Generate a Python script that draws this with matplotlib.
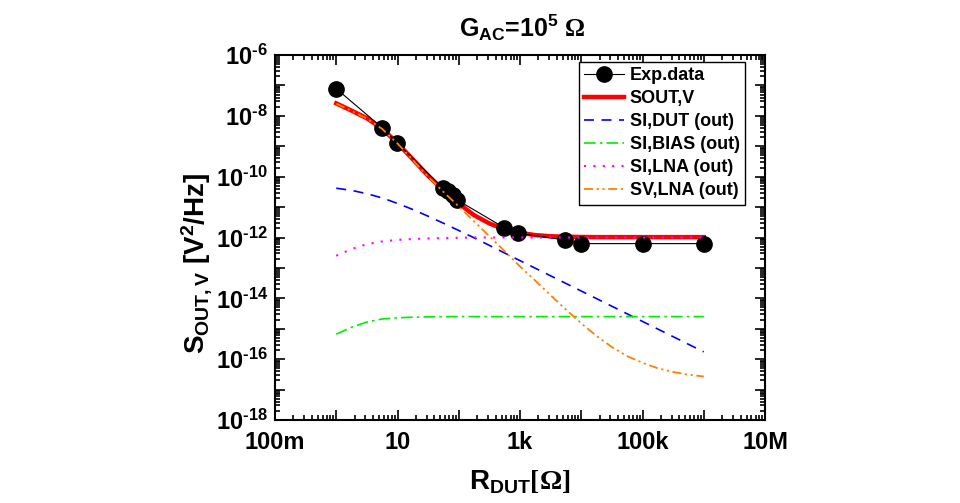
import numpy as np
import matplotlib
matplotlib.use('Agg')
import matplotlib.pyplot as plt
from matplotlib.ticker import LogLocator, FuncFormatter, NullFormatter

plt.rcParams['font.family'] = ['Liberation Sans', 'DejaVu Sans']
plt.rcParams['font.weight'] = 'bold'
plt.rcParams['mathtext.fontset'] = 'custom'
plt.rcParams['mathtext.bf'] = 'Liberation Sans:bold'
plt.rcParams['mathtext.rm'] = 'Liberation Serif'
plt.rcParams['mathtext.it'] = 'Liberation Sans:italic:bold'
plt.rcParams['mathtext.default'] = 'bf'

# ---------------- data ----------------
r_exp = [1, 5.6, 9.7, 56, 67, 80, 95, 555, 933, 5.4e3, 1e4, 1e5, 1e6]
s_exp = [7.8e-8, 4.1e-9, 1.32e-9, 4.17e-11, 3.39e-11, 2.51e-11, 1.70e-11,
         2.09e-12, 1.38e-12, 8.3e-13, 6.3e-13, 6.3e-13, 6.3e-13]

r_model = [1, 1.78, 3.16, 5.62, 10, 17.8, 31.6, 56.2, 100, 178, 316, 562,
           1e3, 1.78e3, 3.16e3, 5.62e3, 1e4, 1.78e4, 3.16e4, 5.62e4,
           1e5, 1.78e5, 3.16e5, 5.62e5, 1e6]

s_out_v = [2.57e-8, 1.48e-8, 8.32e-9, 3.80e-9, 1.26e-9, 3.72e-10, 1.07e-10,
           3.55e-11, 1.32e-11, 5.4e-12, 2.9e-12, 1.85e-12, 1.42e-12, 1.2e-12,
           1.1e-12, 1.06e-12, 1.04e-12, 1.03e-12, 1.03e-12, 1.03e-12,
           1.03e-12, 1.03e-12, 1.03e-12, 1.03e-12, 1.03e-12]

s_i_dut = [4.17e-11, 3.55e-11, 2.75e-11, 2.0e-11, 1.32e-11, 8.32e-12,
           5.01e-12, 2.95e-12, 1.70e-12, 9.77e-13, 5.50e-13, 3.09e-13,
           1.74e-13, 9.77e-14, 5.50e-14, 3.09e-14, 1.74e-14, 9.77e-15,
           5.50e-15, 3.09e-15, 1.74e-15, 9.77e-16, 5.50e-16, 3.09e-16,
           1.74e-16]

s_i_bias = [6.61e-16, 1.12e-15, 1.66e-15, 2.09e-15, 2.29e-15, 2.40e-15,
            2.45e-15, 2.51e-15, 2.51e-15, 2.51e-15, 2.51e-15, 2.51e-15,
            2.51e-15, 2.51e-15, 2.51e-15, 2.51e-15, 2.51e-15, 2.51e-15,
            2.51e-15, 2.51e-15, 2.51e-15, 2.51e-15, 2.51e-15, 2.51e-15,
            2.51e-15]

s_i_lna = [2.51e-13, 4.17e-13, 6.03e-13, 7.41e-13, 8.32e-13, 8.91e-13,
           9.33e-13, 9.55e-13, 9.77e-13, 1.0e-12, 1.0e-12, 1.0e-12, 1.0e-12,
           1.0e-12, 1.0e-12, 1.0e-12, 1.0e-12, 1.0e-12, 1.0e-12, 1.0e-12,
           1.0e-12, 1.0e-12, 1.0e-12, 1.0e-12, 1.0e-12]

s_v_lna = [2.51e-8, 1.45e-8, 8.13e-9, 3.72e-9, 1.23e-9, 3.55e-10, 1.0e-10,
           3.16e-11, 1.05e-11, 3.39e-12, 1.10e-12, 3.55e-13, 1.12e-13,
           3.80e-14, 1.26e-14, 4.27e-15, 1.51e-15, 5.75e-16, 2.51e-16,
           1.26e-16, 7.59e-17, 5.01e-17, 3.80e-17, 3.09e-17, 2.69e-17]

x_tick_labels = {0.1: '100m', 10: '10', 1e3: '1k', 1e5: '100k', 1e7: '10M'}

# ---------------- figure ----------------
fig = plt.figure(figsize=(9.6, 5.03), dpi=100)
fig.patch.set_facecolor('white')
ax = fig.add_axes([275 / 960, 1 - 420 / 503, 490 / 960, 365 / 503])

ax.plot(r_exp, s_exp, color='black', lw=0.8, marker='o', ms=11,
        mfc='black', mec='black', label='Exp.data', zorder=5)
ax.plot(r_model, s_out_v, color='red', lw=3.2, label='SOUT,V', zorder=4)
ax.plot(r_model, s_i_dut, color='#0000ff', lw=1.2, ls=(0, (6, 4.5)),
        label='SI,DUT (out)', zorder=3)
ax.plot(r_model, s_i_bias, color='#00ee00', lw=1.2,
        ls=(0, (7, 2.5, 1.5, 2.5)), label='SI,BIAS (out)', zorder=3)
ax.plot(r_model, s_i_lna, color='#ff00ff', lw=1.5, ls=(0, (1, 3.5)),
        label='SI,LNA (out)', zorder=6)
ax.plot(r_model, s_v_lna, color='#ff8000', lw=1.3,
        ls=(0, (5, 2, 1.2, 2, 1.2, 2)), label='SV,LNA (out)', zorder=6)

ax.set_xscale('log')
ax.set_yscale('log')
ax.set_xlim(0.1, 1e7)
ax.set_ylim(1e-18, 1e-6)

ax.xaxis.set_major_locator(LogLocator(base=10, numticks=100))
ax.xaxis.set_minor_locator(LogLocator(base=10, subs=np.arange(2, 10), numticks=100))
ax.yaxis.set_major_locator(LogLocator(base=10, numticks=100))
ax.yaxis.set_minor_locator(LogLocator(base=10, subs=np.arange(2, 10), numticks=100))


def xfmt(v, pos):
    for k, s in x_tick_labels.items():
        if abs(np.log10(v) - np.log10(k)) < 1e-6:
            return s
    return ''


def yfmt(v, pos):
    e = int(round(np.log10(v)))
    if e % 2 == 0:
        return '10$^{\\mathbf{\u2010%d}}$' % abs(e)
    return ''


ax.xaxis.set_major_formatter(FuncFormatter(xfmt))
ax.xaxis.set_minor_formatter(NullFormatter())
ax.yaxis.set_major_formatter(FuncFormatter(yfmt))
ax.yaxis.set_minor_formatter(NullFormatter())

ax.tick_params(which='both', direction='in', top=True, right=True,
               width=1.2, colors='black')
ax.tick_params(which='major', length=7, labelsize=17)
ax.tick_params(axis='x', which='major', pad=8)
ax.tick_params(axis='y', which='major', pad=5)
ax.tick_params(which='minor', length=3.5)
for sp in ax.spines.values():
    sp.set_linewidth(1.5)

for lab in ax.get_xticklabels() + ax.get_yticklabels():
    lab.set_fontweight('bold')

fig.text(522 / 960, 1 - 28 / 503, r'G$_{\mathbf{AC}}$=10$^{\mathbf{5}}$ $\mathrm{\Omega}$',
         ha='center', va='center', fontsize=18, fontweight='bold')
fig.text(520 / 960, 1 - 482 / 503, r'R$_{\mathbf{DUT}}$$\mathrm{[\Omega]}$',
         ha='center', va='center', fontsize=20, fontweight='bold')
fig.text(197 / 960, 1 - 264 / 503, r'S$_{\mathbf{OUT,V}}$ [V$^{\mathbf{2}}$/Hz]',
         ha='center', va='center', rotation=90, fontsize=20, fontweight='bold')

leg = ax.legend(loc='upper right', bbox_to_anchor=(745 / 960, 1 - 62 / 503),
                bbox_transform=fig.transFigure, fontsize=13, frameon=True,
                fancybox=False, edgecolor='black', framealpha=1,
                borderpad=0.3, labelspacing=0.33, handlelength=2.2,
                handletextpad=0.3, borderaxespad=0)
leg.get_frame().set_linewidth(1.0)
for t in leg.get_texts():
    t.set_fontweight('bold')

fig.savefig('out.png', dpi=100, facecolor='white')
